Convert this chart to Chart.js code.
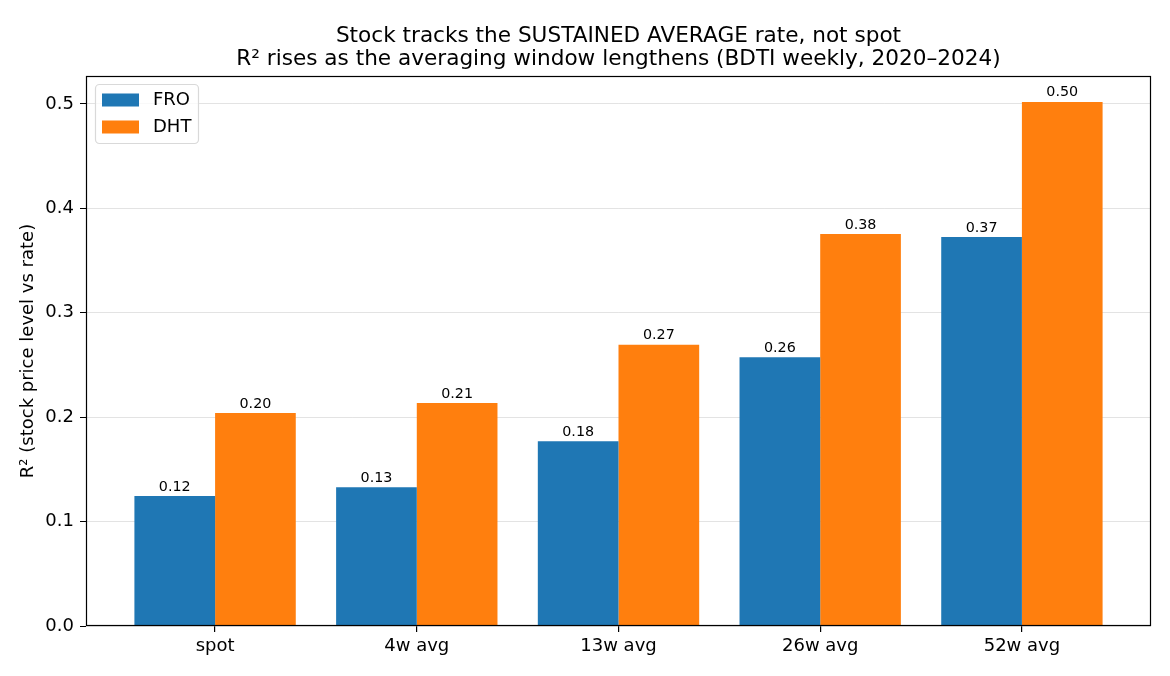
<!DOCTYPE html>
<html>
<head>
<meta charset="utf-8">
<script src="https://cdn.jsdelivr.net/npm/chart.js@4/dist/chart.umd.min.js"></script>
<style>
  body { margin: 0; background: #fff; }
  #wrap { width: 1170px; height: 676px; }
</style>
</head>
<body>
<div id="wrap"><canvas id="chart"></canvas></div>
<script>
const categories = ["spot", "4w avg", "13w avg", "26w avg", "52w avg"];
const froValues = [0.1245, 0.133, 0.177, 0.2575, 0.3725];
const dhtValues = [0.204, 0.2135, 0.2695, 0.3755, 0.502];
const yTicks = [0.0, 0.1, 0.2, 0.3, 0.4, 0.5];
const titleLines = [
    "Stock tracks the SUSTAINED AVERAGE rate, not spot",
    "R² rises as the averaging window lengthens (BDTI weekly, 2020–2024)"
];
const yLabel = "R² (stock price level vs rate)";

const FONT = "'DejaVu Sans', sans-serif";

// bar positions 0..4 on a linear x axis, like matplotlib
const toPoints = vals => vals.map((v, i) => ({ x: i, y: v }));

// title, frame, bar labels, legend
const decorations = {
    id: "decorations",
    afterDraw(chart) {
        const ctx = chart.ctx;
        const a = chart.chartArea;
        ctx.save();

        // frame
        ctx.strokeStyle = "#000";
        ctx.lineWidth = 1.2;
        ctx.strokeRect(a.left + 0.5, a.top + 0.5, a.right - a.left - 1, a.bottom - a.top - 1);

        // title
        ctx.fillStyle = "#000";
        ctx.font = "21.6px " + FONT;
        ctx.textAlign = "center";
        ctx.textBaseline = "alphabetic";
        const cx = (a.left + a.right) / 2;
        ctx.fillText(titleLines[0], cx, 41.5);
        ctx.fillText(titleLines[1], cx, 64.5);

        // y label
        ctx.save();
        ctx.translate(28, (a.top + a.bottom) / 2);
        ctx.rotate(-Math.PI / 2);
        ctx.font = "18px " + FONT;
        ctx.textBaseline = "middle";
        ctx.fillText(yLabel, 0, 0);
        ctx.restore();

        // value labels on bars
        ctx.font = "14.3px " + FONT;
        ctx.textBaseline = "bottom";
        chart.data.datasets.forEach((ds, di) => {
            const meta = chart.getDatasetMeta(di);
            meta.data.forEach((bar, i) => {
                ctx.fillText(ds.data[i].y.toFixed(2), bar.x, bar.y - 2);
            });
        });

        // legend box
        const lx = a.left + 9, ly = a.top + 8, lw = 103, lh = 59;
        ctx.beginPath();
        ctx.roundRect(lx + 0.5, ly + 0.5, lw, lh, 4);
        ctx.fillStyle = "rgba(255,255,255,0.8)";
        ctx.fill();
        ctx.lineWidth = 1.2;
        ctx.strokeStyle = "#d9d9d9";
        ctx.stroke();
        ctx.font = "18px " + FONT;
        ctx.textAlign = "left";
        ctx.textBaseline = "middle";
        chart.data.datasets.forEach((ds, di) => {
            const y = ly + 16 + di * 27;
            ctx.fillStyle = ds.backgroundColor;
            ctx.fillRect(lx + 7, y - 6.5, 37, 13);
            ctx.fillStyle = "#000";
            ctx.fillText(ds.label, lx + 58, y + 0.5);
        });

        ctx.restore();
    }
};

new Chart(document.getElementById("chart"), {
    type: "bar",
    data: {
        datasets: [
            { label: "FRO", data: toPoints(froValues), backgroundColor: "#1f77b4" },
            { label: "DHT", data: toPoints(dhtValues), backgroundColor: "#ff7f0e" }
        ]
    },
    options: {
        responsive: true,
        maintainAspectRatio: false,
        animation: false,
        layout: { padding: { top: 76, right: 19, left: 0, bottom: 0 } },
        datasets: { bar: { categoryPercentage: 0.8, barPercentage: 1.0 } },
        plugins: {
            legend: { display: false },
            title: { display: false },
            tooltip: { enabled: false }
        },
        scales: {
            x: {
                type: "linear",
                offset: false,
                min: -0.64,
                max: 4.64,
                afterBuildTicks: s => { s.ticks = categories.map((c, i) => ({ value: i })); },
                afterFit: s => { s.height = 50; },
                grid: { offset: false, drawOnChartArea: false, drawTicks: true, tickLength: 6, lineWidth: 1.2, color: "#000" },
                border: { display: false },
                ticks: {
                    padding: 4,
                    color: "#000",
                    font: { family: FONT, size: 18 },
                    callback: v => categories[v]
                }
            },
            y: {
                min: 0,
                max: 0.5268,
                z: 1,
                afterBuildTicks: s => { s.ticks = yTicks.map(v => ({ value: v })); },
                afterFit: s => { s.width = 86; },
                grid: {
                    color: "rgba(176,176,176,0.35)",
                    tickColor: "#000",
                    tickLength: 6,
                    drawTicks: true
                },
                border: { display: false },
                ticks: {
                    padding: 6,
                    color: "#000",
                    font: { family: FONT, size: 18 },
                    callback: v => v.toFixed(1)
                }
            }
        }
    },
    plugins: [decorations]
});
</script>
</body>
</html>
